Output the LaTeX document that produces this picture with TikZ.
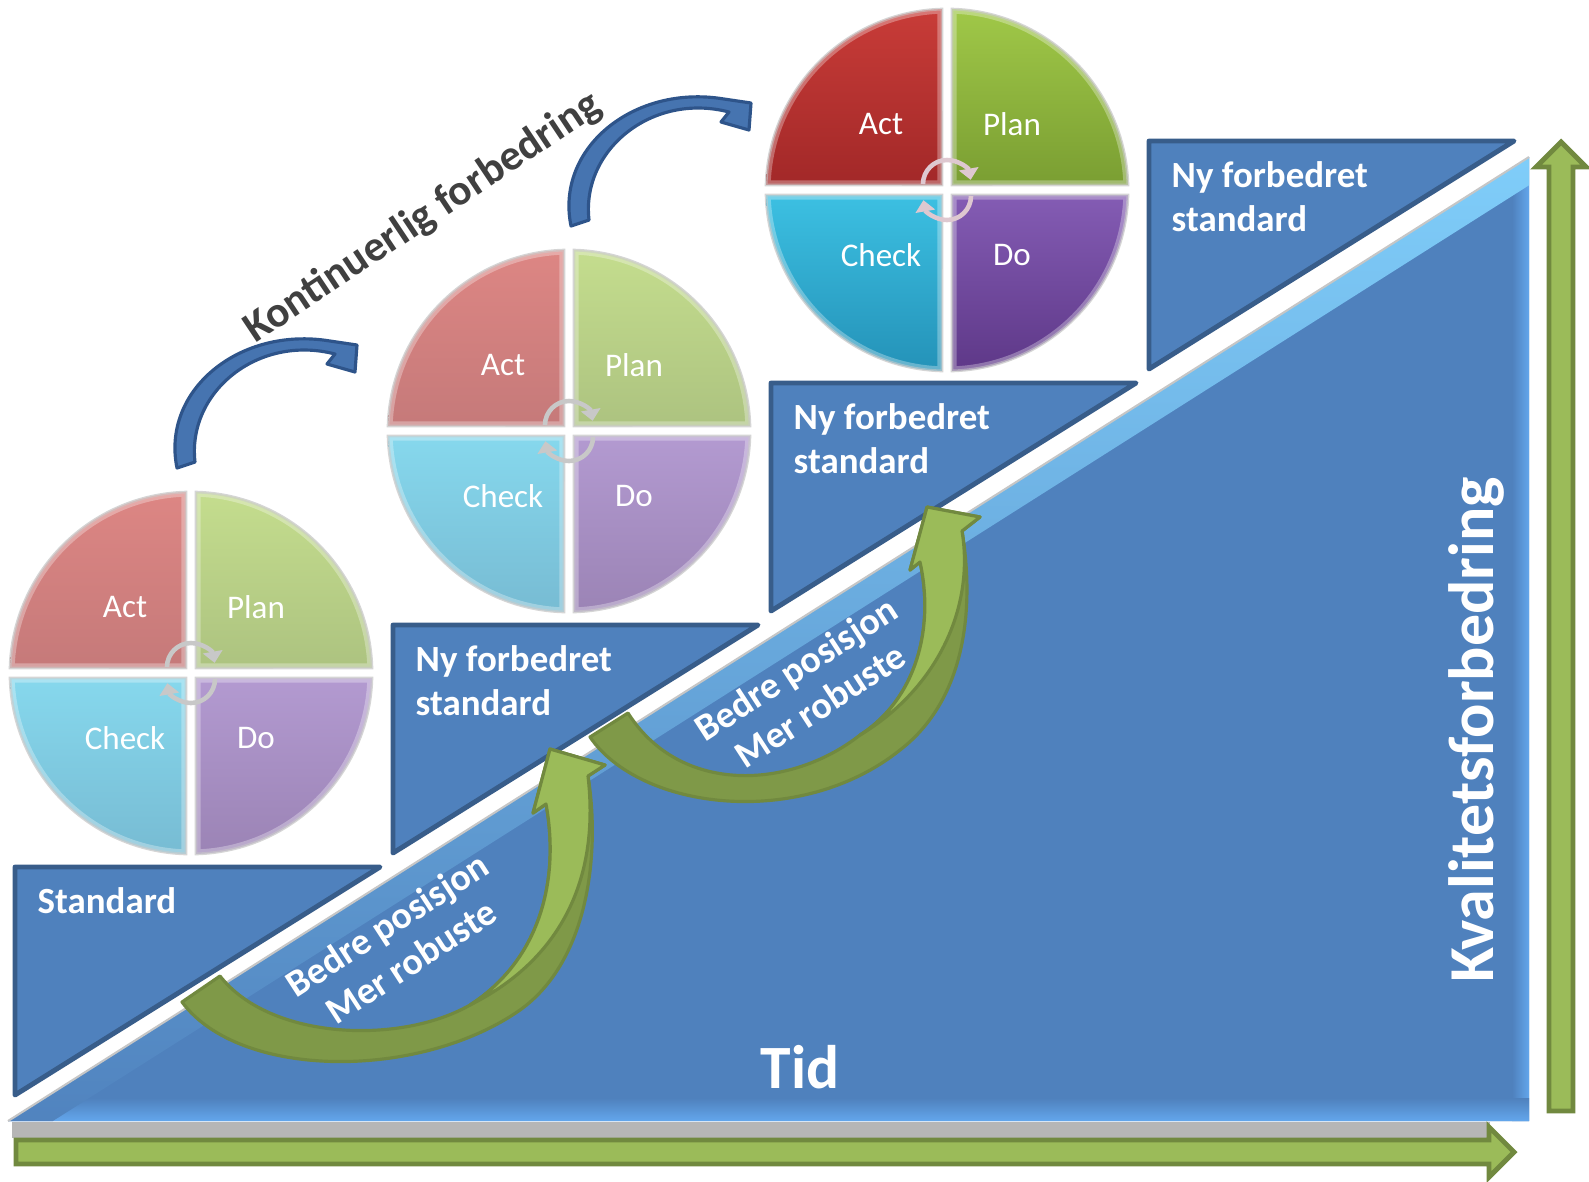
\documentclass[tikz,border=0pt]{standalone}
\usepackage{fontspec}
\setmainfont{Carlito}
\usetikzlibrary{arrows.meta}
\definecolor{TrinnBla}{RGB}{79,129,189}
\definecolor{TrinnKant}{RGB}{56,93,138}
\definecolor{GlodLys}{RGB}{128,206,250}
\definecolor{GlodKant}{RGB}{100,168,238}
\definecolor{Skygge}{RGB}{182,182,182}
\definecolor{PdcaRodLys}{RGB}{200,60,56}
\definecolor{PdcaRod}{RGB}{162,40,40}
\definecolor{PdcaGronnLys}{RGB}{160,200,72}
\definecolor{PdcaGronn}{RGB}{122,158,50}
\definecolor{PdcaCyanLys}{RGB}{60,192,226}
\definecolor{PdcaCyan}{RGB}{36,146,184}
\definecolor{PdcaLillaLys}{RGB}{132,92,180}
\definecolor{PdcaLilla}{RGB}{94,56,136}
\definecolor{RingFarge}{RGB}{222,200,208}
\definecolor{RingBlek}{RGB}{200,200,200}
\definecolor{PilBla}{RGB}{70,116,176}
\definecolor{PilBlaMork}{RGB}{46,84,138}
\definecolor{PilGronn}{RGB}{155,187,89}
\definecolor{PilGronnMork}{RGB}{113,137,63}
\definecolor{BueMork}{RGB}{127,153,72}
\definecolor{Overskrift}{RGB}{64,64,64}
\tikzset{
  trinn/.style={fill=TrinnBla, draw=TrinnKant, line width=1.4pt, line join=round},
  trinntekst/.style={text=white, font=\bfseries\fontsize{10.5}{12.5}\selectfont,
                     align=left, anchor=north west, inner sep=0pt},
  kvadrant/.style={line width=0.8pt, draw=black!30, draw opacity=0.55},
  kvadrantlys/.style={line width=2.6pt, draw=white, draw opacity=0.3},
  pdcatekst/.style={text=white, font=\fontsize{9.4}{11}\selectfont, inner sep=0pt},
  ringpil/.style={line width=1.3pt, -{Triangle[length=3.2pt,width=5.5pt]}},
  gronnpil/.style={fill=PilGronn, draw=PilGronnMork, line width=1.4pt},
  gronnbue/.style={fill=BueMork, draw=PilGronnMork, line width=0.9pt, line join=round},
  gronnlys/.style={fill=PilGronn, draw=PilGronnMork, line width=0.9pt, line join=round},
  blapil/.style={fill=PilBla, draw=PilBlaMork, line width=0.9pt, line join=round},
  gevinst/.style={text=white, font=\bfseries\fontsize{10.8}{12.5}\selectfont,
                  align=center, rotate=33, inner sep=0pt},
  akse/.style={text=white, font=\bfseries\fontsize{17.5}{20}\selectfont, inner sep=0pt},
}

\begin{document}
\begin{tikzpicture}[x=0.01cm, y=-0.01cm]
  \useasboundingbox (0,0) rectangle (1589,1181);

  % Hjelpemakro: PDCA-sirkel med fire kvadranter og ringpiler i midten
  \newcommand{\pdcasirkel}[5]{% navn, x, y, fargestyrke, ringfarge
    \begin{scope}[shift={(#2,#3)}]
      \foreach \v/\lys/\mork/\tekst/\lx/\ly in {180/PdcaRodLys/PdcaRod/Act/-66/-66,
          270/PdcaGronnLys/PdcaGronn/Plan/65/-66, 0/PdcaLillaLys/PdcaLilla/Do/65/65,
          90/PdcaCyanLys/PdcaCyan/Check/-66/65}{
        \path[kvadrant, top color=\lys!#4!white, bottom color=\mork!#4!white, save path=\kvsti]
          (\v+45:7.07) -- (\v+1.6:181) arc[start angle=\v+1.6, end angle=\v+88.4, radius=181] -- cycle;
        \begin{scope}
          \clip[use path=\kvsti];
          \draw[kvadrantlys, use path=\kvsti];
        \end{scope}
        \node[pdcatekst] (#1\tekst) at (\lx,\ly) {\tekst};
      }
      \draw[ringpil, draw=#5] (-24,-6) arc[start angle=180, end angle=350, radius=24];
      \draw[ringpil, draw=#5] (24,6) arc[start angle=0, end angle=170, radius=24];
    \end{scope}}

  % Stor trekant med glod langs kantene
  \coordinate (tv) at (8,1121);
  \coordinate (th) at (1529,1121);
  \coordinate (tt) at (1529,157);
  \fill[TrinnBla] (tv) -- (th) -- (tt) -- cycle;
  \begin{scope}
    \clip (tv) -- (th) -- (tt) -- cycle;
    \shade[left color=TrinnBla, right color=GlodKant] (1512,150) rectangle (1530,1125);
    \shade[top color=TrinnBla, bottom color=GlodKant] (0,1098) rectangle (1540,1122);
    \begin{scope}[shift={(tv)}, rotate=32.37]
      \shade[top color=GlodLys, middle color=TrinnBla!70!GlodLys, bottom color=TrinnBla]
        (-20,0) rectangle (1820,24);
    \end{scope}
  \end{scope}
  \draw[gray!45, line width=0.6pt] (tv) -- (tt);
  \fill[Skygge] (12,1122) rectangle (1490,1138);

  % Trappetrinn
  \foreach \i/\tekst in {0/Standard, 1/{Ny forbedret\\standard},
                         2/{Ny forbedret\\standard}, 3/{Ny forbedret\\standard}}{
    \draw[trinn] (15+378*\i,867-242*\i) -- ++(365,0) -- ++(-365,228) -- cycle;
    \node[trinntekst] (trinn\i) at (37+378*\i,887-242*\i) {\tekst};
  }

  % Aksepiler
  \draw[gronnpil] (16,1140) -- (1489,1140) -- (1489,1127) -- (1514,1152)
    -- (1489,1177) -- (1489,1164) -- (16,1164) -- cycle;
  \draw[gronnpil] (1549,1111) -- (1549,167) -- (1536,167) -- (1561,142)
    -- (1586,167) -- (1573,167) -- (1573,1111) -- cycle;
  \node[akse, anchor=base] (tid) at (800,1088) {Tid};
  \node[akse, anchor=base, rotate=90, font=\bfseries\fontsize{18.2}{20}\selectfont]
    (kvalitet) at (1493,730) {Kvalitetsforbedring};

  % PDCA-sirkler
  \pdcasirkel{a}{191}{673}{62}{RingBlek}
  \pdcasirkel{b}{569}{431}{62}{RingBlek}
  \pdcasirkel{c}{947}{190}{100}{RingFarge}

  % Bla buepiler mellom sirklene
  \foreach \dx/\dy in {0/0, 394/-242}{
    \draw[blapil, shift={(\dx,\dy)}] (177,468) .. controls (161,390) and (240,326) .. (330,341)
      -- (357,345) -- (355,372) -- (327,364) -- (335,354)
      .. controls (258,334) and (187,392) .. (195,462) -- cycle;
  }
  \node[font=\bfseries\fontsize{12.3}{14}\selectfont, text=Overskrift, rotate=33.7]
    (kontinuerlig) at (423,218) {Kontinuerlig forbedring};

  % Gronne buepiler langs trappen
  \draw[gronnbue] (182,1002) .. controls (240,1080) and (420,1080) .. (520,1010)
    .. controls (590,960) and (600,850) .. (588,776) -- (605,765) -- (550,749)
    -- (533,813) -- (546,804) .. controls (560,880) and (540,960) .. (470,1005)
    .. controls (400,1045) and (270,1040) .. (220,976) -- cycle;
  \draw[gronnlys] (470,1005) .. controls (560,960) and (600,880) .. (588,776)
    -- (605,765) -- (550,749) -- (533,813) -- (546,804)
    .. controls (560,880) and (540,960) .. (470,1005) -- cycle;
  \draw[gronnbue] (590,737) .. controls (640,810) and (800,830) .. (900,750)
    .. controls (965,700) and (975,610) .. (962,531) -- (980,517) -- (927,507)
    -- (910,570) -- (920,562) .. controls (935,630) and (915,700) .. (860,735)
    .. controls (790,790) and (680,795) .. (628,713) -- cycle;
  \draw[gronnlys] (860,735) .. controls (935,690) and (975,610) .. (962,531)
    -- (980,517) -- (927,507) -- (910,570) -- (920,562)
    .. controls (935,630) and (915,700) .. (860,735) -- cycle;
  \node[gevinst] (gevinst1) at (399,943) {Bedre posisjon\\Mer robuste};
  \node[gevinst] (gevinst2) at (808,687) {Bedre posisjon\\Mer robuste};
\end{tikzpicture}
\end{document}
